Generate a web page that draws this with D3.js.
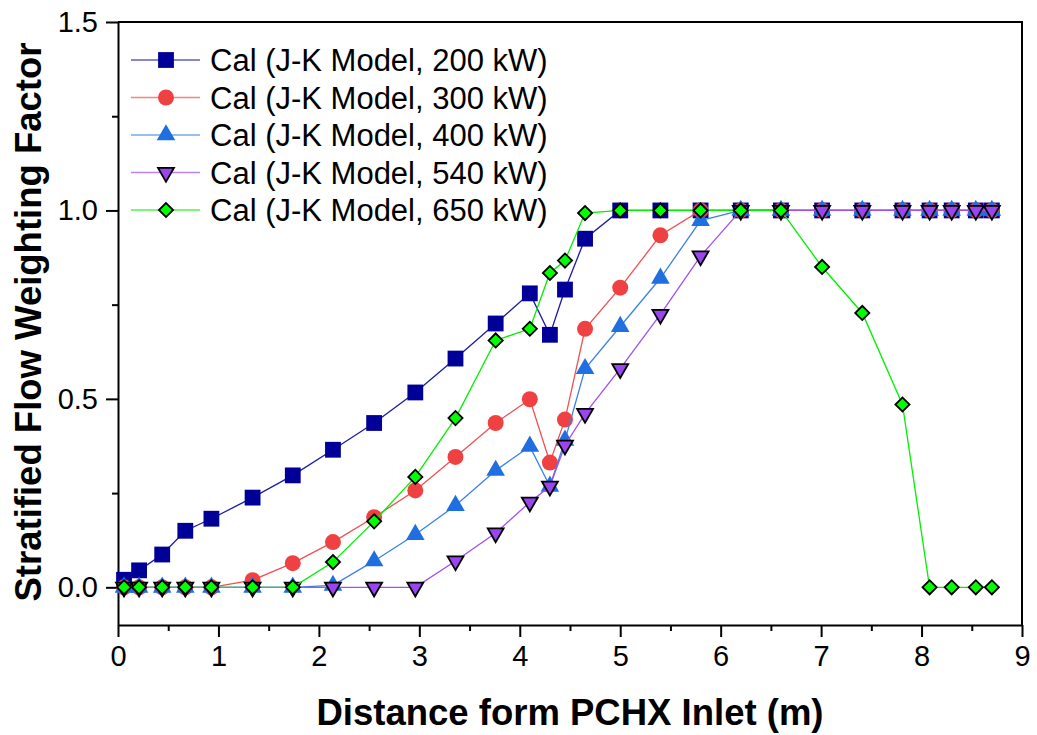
<!DOCTYPE html>
<html>
<head>
<meta charset="utf-8">
<script src="https://cdn.jsdelivr.net/npm/d3@7"></script>
<style>
  body { margin: 0; background: #fff; }
  svg { display: block; font-family: Arial, "Liberation Sans", sans-serif; }
</style>
</head>
<body>
<svg id="chart" width="1037" height="735"></svg>
<script>
// data
var xs = [0.06, 0.21, 0.44, 0.67, 0.93, 1.34, 1.74, 2.14, 2.55, 2.96, 3.36, 3.76, 4.10, 4.30,
          4.45, 4.65, 5.00, 5.40, 5.80, 6.20, 6.60, 7.01, 7.41, 7.81, 8.08, 8.30, 8.54, 8.70];

var cal200 = [0.02, 0.045, 0.087, 0.15, 0.182, 0.238, 0.297, 0.365, 0.436, 0.517, 0.607, 0.70, 0.78, 0.67,
              0.79, 0.925, 1, 1, 1, 1, 1, 1, 1, 1, 1, 1, 1, 1];
var cal300 = [0, 0, 0, 0, 0, 0.019, 0.064, 0.12, 0.186, 0.257, 0.346, 0.436, 0.499, 0.331,
              0.445, 0.686, 0.795, 0.934, 1, 1, 1, 1, 1, 1, 1, 1, 1, 1];
var cal400 = [0, 0, 0, 0, 0, 0, 0, 0.005, 0.07, 0.14, 0.217, 0.31, 0.374, 0.268,
              0.39, 0.58, 0.692, 0.82, 0.973, 1, 1, 1, 1, 1, 1, 1, 1, 1];
var cal540 = [0, 0, 0, 0, 0, 0, 0, 0, 0, 0, 0.07, 0.144, 0.226, 0.268,
              0.377, 0.461, 0.58, 0.724, 0.879, 1, 1, 1, 1, 1, 1, 1, 1, 1];
var cal650 = [0, 0, 0, 0, 0, 0, 0, 0.067, 0.175, 0.293, 0.449, 0.655, 0.686, 0.834,
              0.867, 0.993, 1, 1, 1, 1, 1, 0.85, 0.728, 0.485, 0, 0, 0, 0];

var seriesNames = ["Cal (J-K Model, 200 kW)", "Cal (J-K Model, 300 kW)", "Cal (J-K Model, 400 kW)",
                   "Cal (J-K Model, 540 kW)", "Cal (J-K Model, 650 kW)"];
var xTicks = [0, 1, 2, 3, 4, 5, 6, 7, 8, 9];
var yTicks = [0, 0.5, 1.0, 1.5];

var xTitle = "Distance form PCHX Inlet (m)";
var yTitle = "Stratified Flow Weighting Factor";

var svg = d3.select("#chart");
var pLeft = 118, pRight = 1022, pTop = 22, pBottom = 625;

var x = d3.scaleLinear().domain([0, 9]).range([pLeft, pRight]);
var y = d3.scaleLinear().domain([-0.1, 1.5]).range([pBottom, pTop]);

// marker styles per series
var styles = [
  { line: "#1a1aa8", fill: "#000099", stroke: "none", sym: d3.symbolSquare, size: 250, rot: 0 },
  { line: "#f05050", fill: "#ef4141", stroke: "none", sym: d3.symbolCircle, size: 200, rot: 0 },
  { line: "#3a82e6", fill: "#1f6fe0", stroke: "none", sym: d3.symbolTriangle, size: 150, rot: 0 },
  { line: "#a050f2", fill: "#9b45f0", stroke: "#000", sym: d3.symbolTriangle, size: 110, rot: 180 },
  { line: "#00f000", fill: "#00ff00", stroke: "#000", sym: d3.symbolSquare, size: 100, rot: 45 }
];
var allSeries = [cal200, cal300, cal400, cal540, cal650];

// axes
var xAxis = svg.append("g")
  .attr("transform", "translate(0," + pBottom + ")")
  .call(d3.axisBottom(x).tickValues(xTicks).tickSize(12).tickSizeOuter(0).tickPadding(8)
        .tickFormat(d3.format("d")));
xAxis.selectAll("text").attr("font-size", 29).attr("fill", "#000").attr("font-family", "Arial, 'Liberation Sans', sans-serif");

var xMinor = svg.append("g")
  .attr("transform", "translate(0," + pBottom + ")")
  .call(d3.axisBottom(x).tickValues(d3.range(0.5, 9, 1)).tickSize(6).tickSizeOuter(0).tickFormat(""));
xMinor.select(".domain").remove();

var yAxis = svg.append("g")
  .attr("transform", "translate(" + pLeft + ",0)")
  .call(d3.axisLeft(y).tickValues(yTicks).tickSize(12).tickSizeOuter(0).tickPadding(8)
        .tickFormat(d3.format(".1f")));
yAxis.selectAll("text").attr("font-size", 29).attr("fill", "#000").attr("font-family", "Arial, 'Liberation Sans', sans-serif");

var yMinor = svg.append("g")
  .attr("transform", "translate(" + pLeft + ",0)")
  .call(d3.axisLeft(y).tickValues([0.25, 0.75, 1.25]).tickSize(6).tickSizeOuter(0).tickFormat(""));
yMinor.select(".domain").remove();

svg.selectAll(".tick line").attr("stroke", "#000").attr("stroke-width", 2);
svg.selectAll(".domain").attr("stroke", "#000").attr("stroke-width", 2);

// frame top and right
svg.append("path")
  .attr("d", "M" + pLeft + "," + pTop + "H" + pRight + "V" + pBottom)
  .attr("fill", "none").attr("stroke", "#000").attr("stroke-width", 2);

// series lines and markers
var line = d3.line().x(function(d) { return x(d[0]); }).y(function(d) { return y(d[1]); });

allSeries.forEach(function(vals, i) {
  var st = styles[i];
  var pts = xs.map(function(v, k) { return [v, vals[k]]; });
  var g = svg.append("g");
  g.append("path")
    .datum(pts)
    .attr("d", line)
    .attr("fill", "none")
    .attr("stroke", st.line)
    .attr("stroke-width", 1.3);
  g.selectAll("path.m")
    .data(pts)
    .enter().append("path")
    .attr("class", "m")
    .attr("d", d3.symbol().type(st.sym).size(st.size))
    .attr("transform", function(d) { return "translate(" + x(d[0]) + "," + y(d[1]) + ") rotate(" + st.rot + ")"; })
    .attr("fill", st.fill)
    .attr("stroke", st.stroke)
    .attr("stroke-width", 1.8);
});

// legend
var leg = svg.append("g");
seriesNames.forEach(function(name, i) {
  var st = styles[i];
  var ly = 60 + i * 37.5;
  leg.append("line")
    .attr("x1", 131).attr("x2", 200).attr("y1", ly).attr("y2", ly)
    .attr("stroke", st.line).attr("stroke-opacity", 0.7).attr("stroke-width", 1.5);
  leg.append("path")
    .attr("d", d3.symbol().type(st.sym).size(st.size))
    .attr("transform", "translate(166," + ly + ") rotate(" + st.rot + ")")
    .attr("fill", st.fill).attr("stroke", st.stroke).attr("stroke-width", 1.8);
  leg.append("text")
    .attr("x", 210).attr("y", ly).attr("dy", "0.36em")
    .attr("font-size", 31)
    .text(name);
});

// axis titles
svg.append("text")
  .attr("x", 570).attr("y", 725)
  .attr("text-anchor", "middle")
  .attr("font-size", 36.5).attr("font-weight", "bold")
  .text(xTitle);

svg.append("text")
  .attr("transform", "translate(41,322) rotate(-90)")
  .attr("text-anchor", "middle")
  .attr("font-size", 36.5).attr("font-weight", "bold")
  .text(yTitle);
</script>
</body>
</html>
